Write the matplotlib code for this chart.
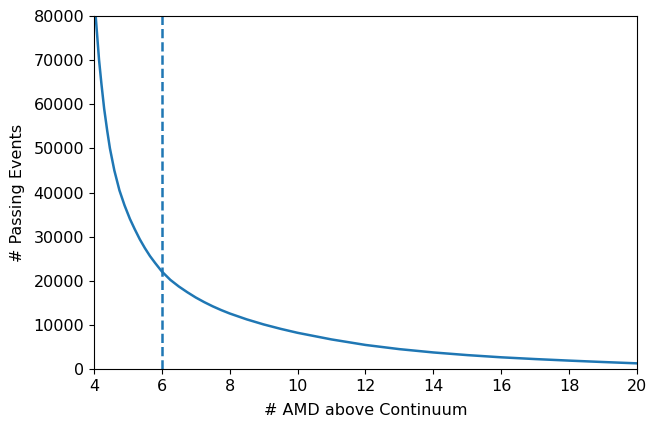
import matplotlib
matplotlib.use("Agg")
import matplotlib.pyplot as plt

plt.rcParams["font.size"] = 11.5

# number of AMD above continuum vs. passing events
n_amd = [4, 4.05, 4.15, 4.22, 4.3, 4.39, 4.47, 4.6, 4.75, 4.9, 5.06, 5.2,
         5.35, 5.5, 5.65, 5.8, 6, 6.25, 6.5, 6.75, 7, 7.25, 7.5, 7.75, 8,
         8.5, 9, 9.5, 10, 11, 12, 13, 14, 15, 16, 17, 18, 19, 20]
n_pass = [88000, 80000, 70000, 64600, 59000, 54000, 50000, 45000, 40500,
          37100, 34000, 31700, 29400, 27400, 25600, 24050, 22100, 20200,
          18700, 17400, 16200, 15150, 14200, 13350, 12580, 11250, 10100,
          9100, 8200, 6700, 5450, 4500, 3750, 3150, 2650, 2250, 1900,
          1580, 1280]
cut = 6

fig = plt.figure(figsize=(6.49, 4.22), dpi=100)
ax = fig.add_axes([0.1448, 0.1256, 0.8367, 0.8364])

ax.plot(n_amd, n_pass, color="#1f77b4", lw=1.8)
ax.axvline(cut, color="#1f77b4", ls="--", lw=1.8)

ax.set_xlim(4, 20)
ax.set_ylim(0, 80000)
ax.set_xticks(range(4, 21, 2))
ax.set_yticks(range(0, 80001, 10000))
ax.set_xlabel("# AMD above Continuum", labelpad=6.5)
ax.set_ylabel("# Passing Events", labelpad=6)

fig.savefig("out.png", dpi=100)
